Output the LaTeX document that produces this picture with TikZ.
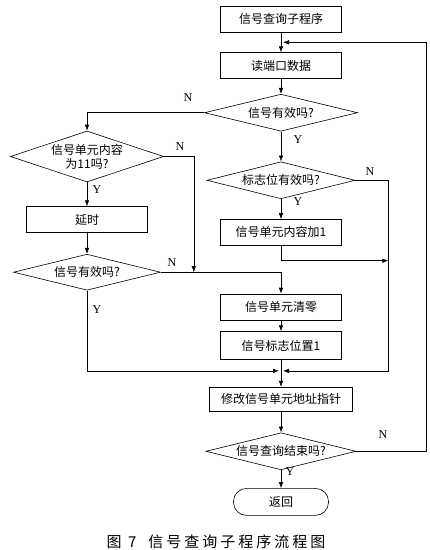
\documentclass[tikz,border=0pt]{standalone}
\usepackage{fontspec}
\setmainfont{Liberation Serif}
\newfontfamily\cjk{Noto Sans CJK SC}
\newfontfamily\capfont[LetterSpace=20]{Noto Sans CJK SC}
\usetikzlibrary{shapes.geometric, arrows.meta, positioning, calc}
\tikzset{
    proc/.style={rectangle, draw, minimum width=121pt, minimum height=26pt, inner sep=1pt, font=\cjk\fontsize{12}{14}\selectfont},
    decide/.style={diamond, draw, aspect=4, inner sep=0pt, minimum width=150pt, minimum height=37pt, font=\cjk\fontsize{12}{14}\selectfont},
    term/.style={rectangle, draw, rounded corners=13pt, minimum width=95pt, minimum height=27pt, font=\cjk\fontsize{12}{14}\selectfont},
    yn/.style={inner sep=0pt, font=\fontsize{12}{14}\selectfont},
    arrow/.style={-{Latex[length=6pt,width=4.5pt]}}
}

\begin{document}
\begin{tikzpicture}[x=1pt, y=1pt, line width=0.6pt]
            \useasboundingbox (0,0) rectangle (430,-550);

            % Main column
            \node (start) [proc] at (281,-19) {信号查询子程序};
            \node (read) [proc, below=20pt of start] {读端口数据};
            \node (d1) [decide, minimum width=153pt, below=15pt of read] {信号有效吗?};
            \node (d3) [decide, minimum width=148pt, below=30pt of d1] {标志位有效吗?};
            \node (inc) [proc, below=20pt of d3] {信号单元内容加1};
            \node (clear) [proc, below=48pt of inc] {信号单元清零};
            \node (flag) [proc, minimum height=28pt, below=11pt of clear] {信号标志位置1};
            \node (modify) [proc, minimum width=143pt, minimum height=24pt, below=27pt of flag] {修改信号单元地址指针};
            \node (d5) [decide, below=21pt of modify] {信号查询结束吗?};
            \node (ret) [term, below=18pt of d5] {返回};

            % Left column
            \node (d2) [decide, aspect=3, align=center, minimum width=153pt, minimum height=51pt] at (87,-156.5) {信号单元内容\\为11吗?};
            \node (delay) [proc, below=24pt of d2] {延时};
            \node (d4) [decide, minimum width=147pt, minimum height=36pt, below=21pt of delay] {信号有效吗?};

            % Y/N labels
            \node (n1) [yn] at (188,-98) {N};
            \node (y1) [yn] at (298,-140) {Y};
            \node (n2) [yn] at (180,-147) {N};
            \node (y2) [yn] at (97,-190) {Y};
            \node (n3) [yn] at (370,-172) {N};
            \node (y3) [yn] at (298,-202) {Y};
            \node (n4) [yn] at (172,-263) {N};
            \node (y4) [yn] at (97,-310) {Y};
            \node (n5) [yn] at (383,-435) {N};
            \node (y5) [yn] at (290,-472) {Y};

            % Caption
            \node (cap) at (216,-542) {\capfont\fontsize{15}{17}\selectfont 图 7\hspace{12pt}信号查询子程序流程图};

            % Corners and joins
            \coordinate (j0) at ($(start.south)!0.5!(read.north)$);
            \coordinate (j2) at ($(flag.south)+(0,-11pt)$);
            \coordinate (k1) at ($(d2.east)+(30pt,0)$);
            \coordinate (k3) at ($(d3.east)+(33pt,0)$);
            \coordinate (k5) at ($(d5.east)+(70pt,0)$);

            % Arrows
            \draw [arrow] (start) -- (read);
            \draw [arrow] (read) -- (d1);
            \draw [arrow] (d1.west) -| (d2.north);
            \draw [arrow] (d1) -- (d3);
            \draw [arrow] (d3) -- (inc);
            \draw [arrow] (d2) -- (delay);
            \draw [arrow] (delay) -- (d4);
            \draw [arrow] (d2.east) -- (k1) -- (k1 |- d4.east);
            \draw [arrow] (d4.east) -| (clear.north);
            \draw [arrow] (d3.east) -- (k3) |- ([xshift=2pt]j2);
            \draw [arrow] (inc.south) -- ++(0,-15pt) coordinate (k2) -- (k2 -| k3);
            \draw [arrow] (d4.south) |- ([xshift=-2pt]j2);
            \draw [arrow] (clear) -- (flag);
            \draw [arrow] (flag) -- (modify);
            \draw [arrow] (modify) -- (d5);
            \draw [arrow] (d5) -- (ret);
            \draw [arrow] (d5.east) -- (k5) |- ([xshift=2pt]j0);

\end{tikzpicture}
\end{document}
